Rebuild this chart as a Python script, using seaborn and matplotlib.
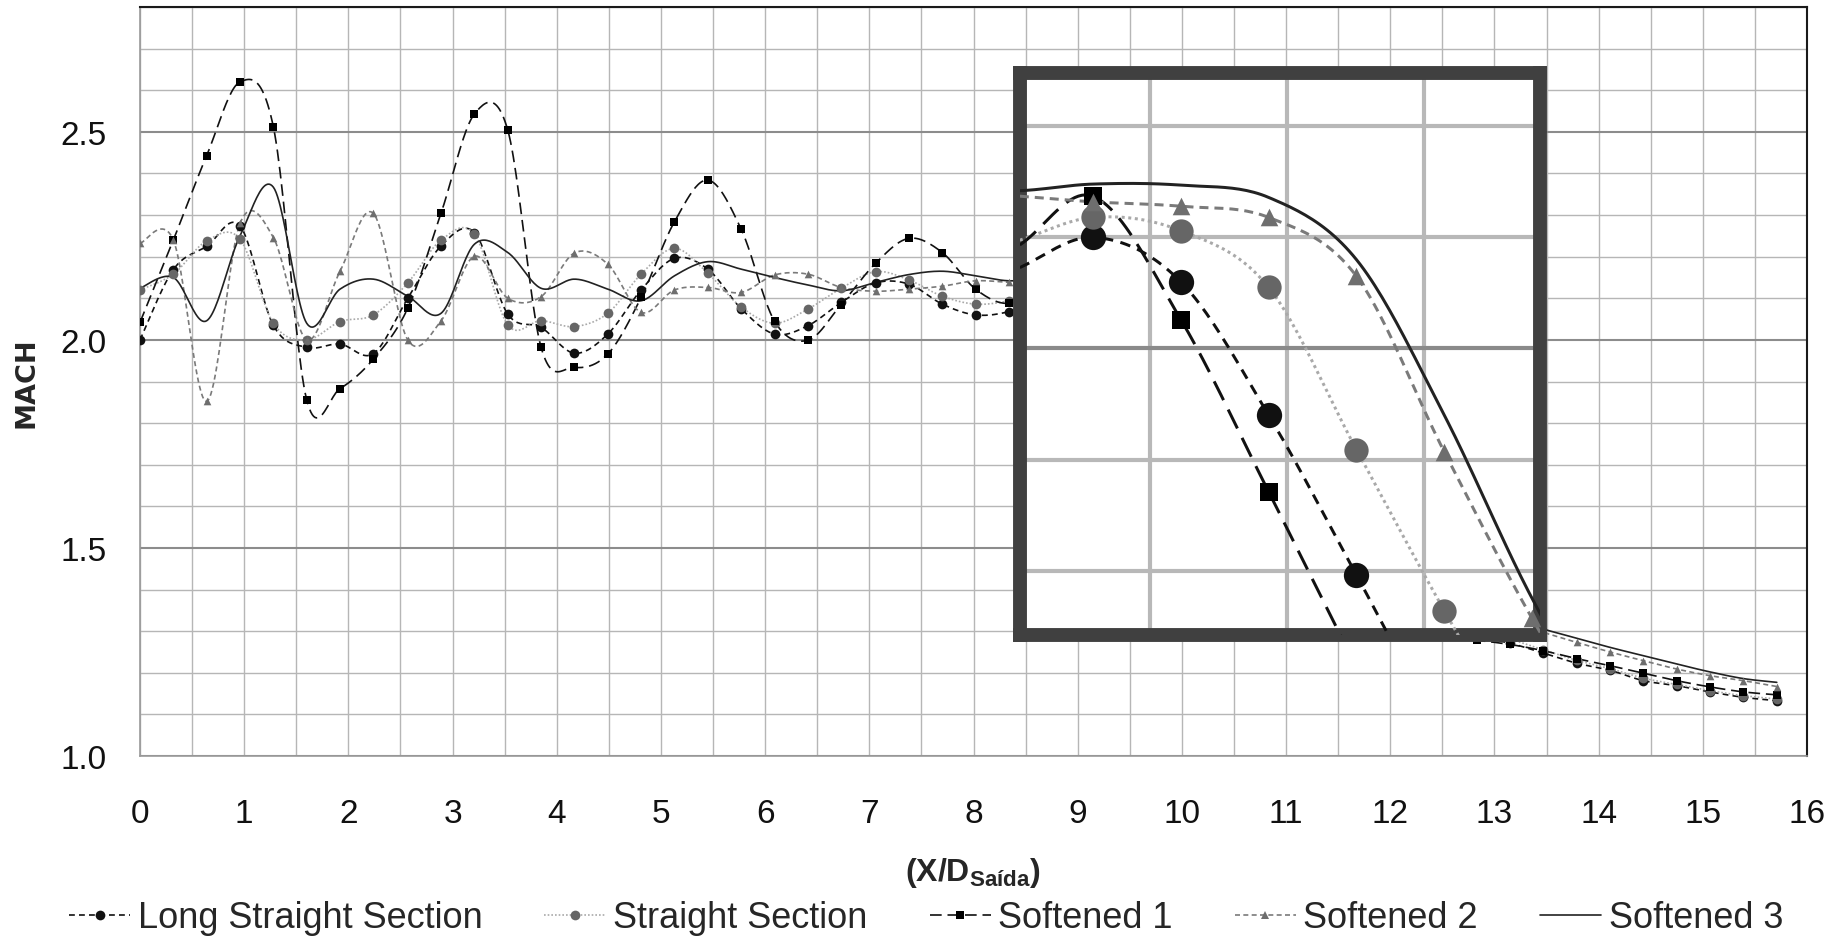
import numpy as np
import matplotlib
matplotlib.use("Agg")
import matplotlib.pyplot as plt
import seaborn as sns
from matplotlib.ticker import MultipleLocator, FormatStrFormatter
from matplotlib.lines import Line2D

# Axial stations (X/D at the exit) and Mach number along the jet centreline
x_over_d = [0.00, 0.32, 0.64, 0.96, 1.28, 1.60, 1.92, 2.24, 2.57, 2.89,
            3.21, 3.53, 3.85, 4.17, 4.49, 4.81, 5.13, 5.45, 5.77, 6.09,
            6.41, 6.73, 7.06, 7.38, 7.70, 8.02, 8.34, 8.66, 8.98, 9.30,
            9.62, 9.94, 10.26, 10.58, 10.90, 11.22, 11.54, 11.87, 12.19, 12.51,
            12.83, 13.15, 13.47, 13.79, 14.11, 14.43, 14.75, 15.07, 15.39, 15.71]

mach_long = [2.000, 2.169, 2.225, 2.274, 2.035, 1.982, 1.990, 1.967, 2.100, 2.226,
             2.258, 2.062, 2.030, 1.968, 2.014, 2.120, 2.196, 2.170, 2.075, 2.014,
             2.034, 2.090, 2.137, 2.134, 2.086, 2.060, 2.068, 2.100, 2.060, 1.940,
             1.796, 1.650, 1.530, 1.440, 1.385, 1.350, 1.330, 1.315, 1.305, 1.295,
             1.285, 1.271, 1.247, 1.223, 1.206, 1.181, 1.169, 1.154, 1.141, 1.133]

mach_straight = [2.120, 2.158, 2.238, 2.242, 2.040, 2.000, 2.044, 2.060, 2.137, 2.240,
                 2.254, 2.036, 2.046, 2.032, 2.064, 2.158, 2.220, 2.160, 2.079, 2.040,
                 2.074, 2.124, 2.164, 2.144, 2.105, 2.086, 2.094, 2.118, 2.106, 2.055,
                 1.909, 1.764, 1.630, 1.520, 1.440, 1.390, 1.355, 1.335, 1.320, 1.305,
                 1.293, 1.280, 1.255, 1.230, 1.210, 1.187, 1.172, 1.157, 1.145, 1.137]

mach_soft1 = [2.042, 2.240, 2.443, 2.620, 2.512, 1.856, 1.883, 1.954, 2.076, 2.305,
              2.543, 2.504, 1.982, 1.934, 1.966, 2.102, 2.284, 2.384, 2.266, 2.045,
              1.999, 2.085, 2.184, 2.244, 2.210, 2.122, 2.088, 2.137, 2.026, 1.871,
              1.714, 1.570, 1.465, 1.395, 1.350, 1.325, 1.310, 1.300, 1.292, 1.285,
              1.278, 1.268, 1.253, 1.234, 1.217, 1.199, 1.181, 1.166, 1.154, 1.147]

mach_soft2 = [2.232, 2.240, 1.852, 2.280, 2.246, 2.000, 2.165, 2.304, 2.000, 2.046,
              2.201, 2.100, 2.104, 2.209, 2.182, 2.066, 2.120, 2.126, 2.114, 2.156,
              2.158, 2.126, 2.117, 2.122, 2.129, 2.142, 2.138, 2.132, 2.128, 2.118,
              2.065, 1.907, 1.757, 1.630, 1.540, 1.480, 1.440, 1.410, 1.385, 1.365,
              1.345, 1.322, 1.297, 1.273, 1.250, 1.229, 1.209, 1.193, 1.181, 1.167]

mach_soft3 = [2.124, 2.150, 2.046, 2.250, 2.367, 2.040, 2.122, 2.146, 2.105, 2.064,
              2.230, 2.210, 2.124, 2.146, 2.122, 2.094, 2.154, 2.188, 2.170, 2.150,
              2.132, 2.118, 2.138, 2.157, 2.165, 2.154, 2.142, 2.148, 2.147, 2.136,
              2.080, 1.940, 1.775, 1.640, 1.545, 1.480, 1.440, 1.415, 1.395, 1.375,
              1.355, 1.330, 1.305, 1.283, 1.261, 1.241, 1.221, 1.202, 1.186, 1.177]

labels = ["Long Straight Section", "Straight Section", "Softened 1", "Softened 2", "Softened 3"]
x_ticks = list(range(0, 17))
y_ticks = [1.0, 1.5, 2.0, 2.5]


def smooth_curve(xs, ys, n=24):
    """Catmull-Rom curve through the points (same as a spreadsheet 'smoothed line')."""
    P = np.column_stack([np.asarray(xs, float), np.asarray(ys, float)])
    P = np.vstack([P[0], P, P[-1]])
    t = np.linspace(0, 1, n, endpoint=False)[:, None]
    segs = []
    for i in range(1, len(P) - 2):
        p0, p1, p2, p3 = P[i - 1], P[i], P[i + 1], P[i + 2]
        segs.append(0.5 * (2 * p1 + (-p0 + p2) * t
                           + (2 * p0 - 5 * p1 + 4 * p2 - p3) * t ** 2
                           + (-p0 + 3 * p1 - 3 * p2 + p3) * t ** 3))
    segs.append(P[-2][None, :])
    out = np.vstack(segs)
    return out[:, 0], out[:, 1]


styles = [
    dict(color="#111111", ls=(0, (3.5, 2.5)), marker="o", mcolor="#111111", ms=7.0, mz=2.6),
    dict(color="#a9a9a9", ls=(0, (1.0, 1.2)), marker="o", mcolor="#666666", ms=7.0, mz=2.5),
    dict(color="#111111", ls=(0, (7.0, 3.5)), marker="s", mcolor="#000000", ms=5.2, mz=2.6),
    dict(color="#7a7a7a", ls=(0, (3.0, 2.0)), marker="^", mcolor="#6e6e6e", ms=5.5, mz=2.3),
    dict(color="#222222", ls="-", marker=None, mcolor=None, ms=0, mz=1),
]
series = [mach_long, mach_straight, mach_soft1, mach_soft2, mach_soft3]

sns.set_theme(style="white")
plt.rcParams["font.family"] = ["Liberation Sans", "DejaVu Sans"]

W, H = 1837, 937
fig = plt.figure(figsize=(W / 100, H / 100), dpi=100)
ax = fig.add_axes([140 / W, (H - 757) / H, 1667 / W, 749 / H])


def draw_series(axis, line_scale, marker_zoom):
    for vals, st in zip(series, styles):
        sx, sy = smooth_curve(x_over_d, vals)
        sns.lineplot(x=sx, y=sy, ax=axis, sort=False, estimator=None,
                     color=st["color"], linewidth=1.2 * line_scale,
                     linestyle=st["ls"], legend=False, zorder=3)
        if st["marker"]:
            size = st["ms"] * (st["mz"] if marker_zoom else 1.0)
            sns.scatterplot(x=x_over_d, y=vals, ax=axis, marker=st["marker"],
                            s=size ** 2, color=st["mcolor"],
                            linewidth=0, legend=False, zorder=4)


draw_series(ax, 1.0, False)

ax.set_xlim(0, 16)
ax.set_ylim(1.0, 2.8)
ax.xaxis.set_major_locator(MultipleLocator(1))
ax.xaxis.set_minor_locator(MultipleLocator(0.5))
ax.set_xticks(x_ticks)
ax.yaxis.set_major_locator(MultipleLocator(0.5))
ax.yaxis.set_minor_locator(MultipleLocator(0.1))
ax.set_yticks(y_ticks)
ax.yaxis.set_major_formatter(FormatStrFormatter("%.1f"))
ax.grid(which="minor", color="#b6b6b6", linewidth=1.0)
ax.grid(which="major", axis="x", color="#b6b6b6", linewidth=1.0)
ax.grid(which="major", axis="y", color="#8c8c8c", linewidth=1.5)
ax.set_axisbelow(True)
ax.tick_params(which="both", length=0, labelsize=24, colors="#111111")
ax.tick_params(axis="x", pad=30)
ax.tick_params(axis="y", pad=24)
for side in ("top", "right"):
    ax.spines[side].set_color("#1a1a1a")
    ax.spines[side].set_linewidth(1.5)
for side in ("left", "bottom"):
    ax.spines[side].set_color("#9a9a9a")
    ax.spines[side].set_linewidth(1.2)

ax.set_ylabel("MACH", fontsize=19.5, fontweight="bold", family="DejaVu Sans")
ax.yaxis.set_label_coords((26 - 140) / 1667, 0.5)
ax.yaxis.label.set_va("center")
ax.set_xlabel("(X/D$_{\\mathregular{Saída}}$)", fontsize=23, fontweight="bold")
ax.xaxis.set_label_coords(0.5, (757 - 873) / 749)
ax.xaxis.label.set_va("center")

# Magnified view of the start of the decay region
axi = fig.add_axes([1020 / W, (H - 636) / H, 520 / W, 562 / H])
axi.set_facecolor("white")
draw_series(axi, 1.8, True)
axi.set_xlim(8.394, 10.289)
axi.set_ylim(1.742, 2.248)
axi.xaxis.set_major_locator(MultipleLocator(0.5, offset=0.366))
axi.yaxis.set_major_locator(MultipleLocator(0.5))
axi.yaxis.set_minor_locator(MultipleLocator(0.1))
axi.grid(which="major", axis="x", color="#b8b8b8", linewidth=3.0)
axi.grid(which="minor", axis="y", color="#b8b8b8", linewidth=3.0)
axi.grid(which="major", axis="y", color="#8a8a8a", linewidth=3.0)
axi.set_axisbelow(True)
axi.tick_params(which="both", length=0, labelbottom=False, labelleft=False)
for sp in axi.spines.values():
    sp.set_color("#404040")
    sp.set_linewidth(10)

handles = []
for st in styles:
    handles.append(Line2D([], [], color=st["color"], linestyle=st["ls"], linewidth=1.2,
                          marker=st["marker"] if st["marker"] else None,
                          markerfacecolor=st["mcolor"], markeredgewidth=0,
                          markersize=st["ms"]))
fig.legend(handles, labels, loc="center", bbox_to_anchor=(926 / W, 1 - 919 / H),
           ncol=5, frameon=False, fontsize=26, handlelength=1.7,
           handletextpad=0.2, columnspacing=1.72)

fig.savefig("out.png", dpi=100, facecolor="white")
